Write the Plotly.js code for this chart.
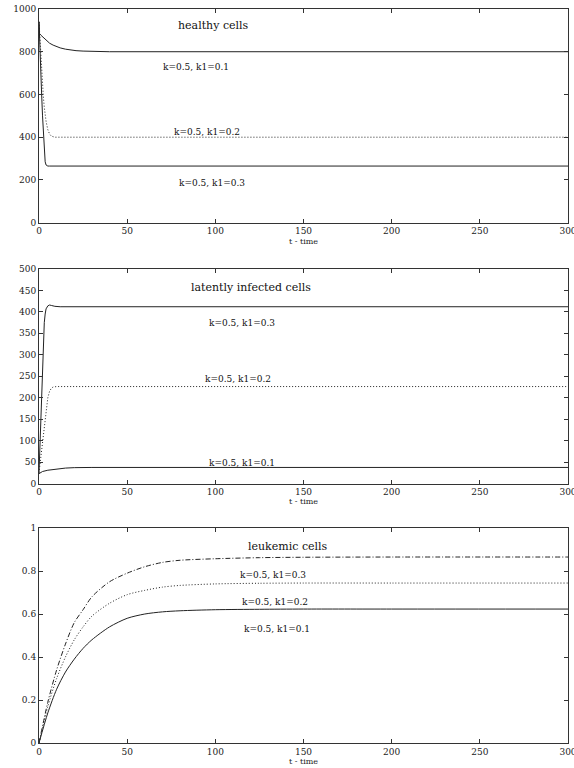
<!DOCTYPE html>
<html><head><meta charset="utf-8">
<script src="https://cdn.plot.ly/plotly-3.0.1.min.js"></script>
<style>html,body{margin:0;padding:0;background:#fff}#chart{width:574px;height:768px}</style>
</head><body><div id="chart"></div>
<script>
// ---- healthy cells ----
const tH1 = [0,0.3,1,2,4,6,8,10,12,15,18,21,25,30,35,40,300];
const healthy1 = [940,885,878,870,852,840,831,824,818,812,808,805,803,801,800.5,800,800];
const tH2 = [0,0.5,1,1.5,2,2.5,3,3.5,4,5,6,7,8,9,12,300];
const healthy2 = [940,860,780,705,640,585,540,505,475,435,415,405,401,400,400,400];
const tH3 = [0,0.5,1,1.5,2,2.5,3,3.5,4,5,6,300];
const healthy3 = [940,850,720,600,500,400,320,285,270,265,265,265];
// ---- latently infected cells ----
const tL1 = [0,2,5,10,15,20,30,300];
const latent1 = [23,28,31,34,36,37,37.5,37.5];
const tL2 = [0,1,2,3,4,5,6,7,8,10,300];
const latent2 = [25,60,100,140,175,200,215,222,225,226,226];
const tL3 = [0,0.5,1,1.5,2,2.5,3,3.5,4,5,6,7,9,12,300];
const latent3 = [25,80,150,220,290,340,375,395,407,414,416,415,413,412,412];
// ---- leukemic cells ----
const tK = [0,5,10,15,20,25,30,40,50,60,70,80,100,125,150,200,300];
const leuk1 = [0,0.14,0.25,0.33,0.39,0.44,0.48,0.54,0.58,0.60,0.61,0.615,0.62,0.622,0.623,0.623,0.623];
const leuk2 = [0,0.17,0.30,0.40,0.48,0.54,0.59,0.65,0.69,0.71,0.725,0.733,0.74,0.743,0.744,0.744,0.744];
const leuk3 = [0,0.19,0.34,0.46,0.56,0.62,0.68,0.75,0.79,0.82,0.84,0.85,0.857,0.862,0.864,0.865,0.865];

const panelTitles = ["healthy cells","latently infected cells","leukemic cells"];
const curveLabels = ["k=0.5, k1=0.1","k=0.5, k1=0.2","k=0.5, k1=0.3"];
const xTitle = "t - time";

const lineCol = "#222";
const DOT = "1px,2px";
const DASHDOT = "5px,2px,1px,2px";
function tr(x,y,xa,ya,dash,smooth){return {x:x,y:y,xaxis:xa,yaxis:ya,type:"scatter",mode:"lines",
  line:{color:lineCol,width:1,dash:dash,shape:smooth?"spline":"linear",smoothing:smooth?0.8:0},hoverinfo:"skip"};}

const data = [
  tr(tH1,healthy1,"x","y","solid",false),
  tr(tH2,healthy2,"x","y",DOT,false),
  tr(tH3,healthy3,"x","y","solid",false),
  tr(tL1,latent1,"x2","y2","solid",false),
  tr(tL2,latent2,"x2","y2",DOT,false),
  tr(tL3,latent3,"x2","y2","solid",false),
  tr(tK,leuk1,"x3","y3","solid",true),
  tr(tK,leuk2,"x3","y3",DOT,true),
  tr(tK,leuk3,"x3","y3",DASHDOT,true)
];

const tickFont = {family:"DejaVu Serif, Liberation Serif, serif",size:9,color:"#222"};
function xax(anchor){return {anchor:anchor,range:[0,300],tickvals:[0,50,100,150,200,250,300],ticktext:["0","50","100","150","200","250","300"],
  ticks:"inside",ticklen:4,tickcolor:"#333",ticklabeloverflow:"allow",
  mirror:"ticks",showline:true,linecolor:"#333",linewidth:1,showgrid:false,zeroline:false,tickfont:tickFont,
  title:{text:xTitle,font:{family:"DejaVu Serif, serif",size:8,color:"#222"},standoff:2}};}
function yax(anchor,dom,range,dtick){return {anchor:anchor,domain:dom,range:range,dtick:dtick,ticks:"inside",ticklen:4,tickcolor:"#333",
  mirror:"ticks",showline:true,linecolor:"#333",linewidth:1,showgrid:false,zeroline:false,tickfont:tickFont};}

const annFont = {family:"DejaVu Serif, serif",size:9,color:"#111"};
const titleFont = {family:"DejaVu Serif, serif",size:11,color:"#111"};
function ann(xr,yr,x,y,text,font){return {xref:xr,yref:yr,x:x,y:y,text:text,showarrow:false,font:font,xanchor:"center",yanchor:"middle"};}

const layout = {
  width:574,height:768,paper_bgcolor:"#fff",plot_bgcolor:"#fff",showlegend:false,
  margin:{l:39,r:6,t:9,b:25},
  xaxis:xax("y"), yaxis:yax("x",[0.7089,1.0],[0,1000],200),
  xaxis2:xax("y2"), yaxis2:yax("x2",[0.3535,0.6458],[0,500],50),
  xaxis3:xax("y3"), yaxis3:yax("x3",[0,0.2929],[0,1],0.2),
  annotations:[
    ann("x","y",99,925,panelTitles[0],titleFont),
    ann("x","y",89,729,curveLabels[0],annFont),
    ann("x","y",95,424,curveLabels[1],annFont),
    ann("x","y",98,186,curveLabels[2],annFont),
    ann("x2","y2",120,458,panelTitles[1],titleFont),
    ann("x2","y2",115,374,curveLabels[2],annFont),
    ann("x2","y2",112.6,243,curveLabels[1],annFont),
    ann("x2","y2",115,49,curveLabels[0],annFont),
    ann("x3","y3",141,0.916,panelTitles[2],titleFont),
    ann("x3","y3",132.5,0.781,curveLabels[2],annFont),
    ann("x3","y3",134,0.656,curveLabels[1],annFont),
    ann("x3","y3",135,0.53,curveLabels[0],annFont)
  ]
};
Plotly.newPlot("chart",data,layout,{staticPlot:true,displayModeBar:false});
</script></body></html>
